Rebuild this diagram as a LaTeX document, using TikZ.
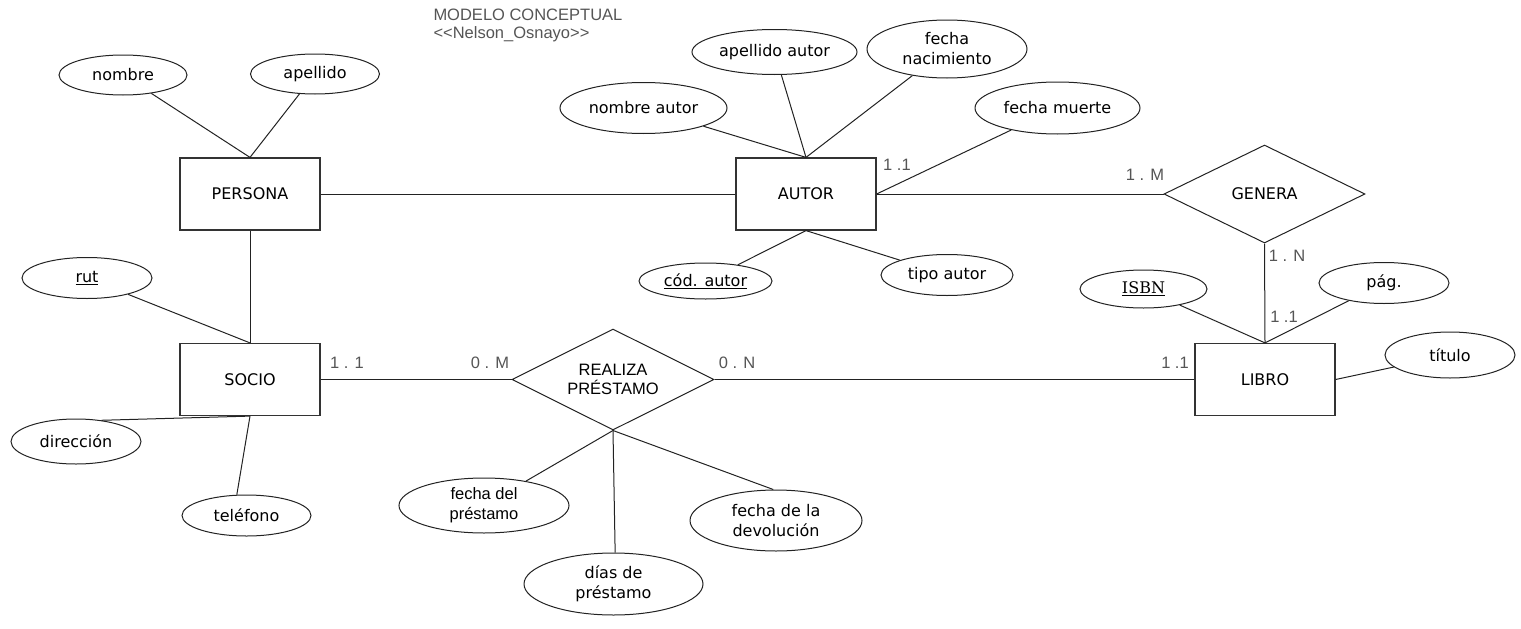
\documentclass[tikz,border=0pt]{standalone}
\usepackage{fontspec}
\setmainfont{DejaVu Sans}
\newfontfamily\arialf{Liberation Sans}
\newfontfamily\serifd{DejaVu Serif}
\usetikzlibrary{shapes.geometric}
\definecolor{lblgray}{HTML}{555555}
\definecolor{edgegray}{HTML}{222222}
\definecolor{boxgray}{HTML}{333333}
\begin{document}
\begin{tikzpicture}[x=1pt,y=-1pt,
  font=\fontsize{16}{20}\selectfont,
  line width=1pt, draw=edgegray,
  ent/.style={draw=boxgray, line width=1.2pt, minimum width=140pt, minimum height=72pt, inner sep=0pt},
  attr/.style={draw=edgegray, line width=1pt, ellipse, inner sep=0pt, align=center},
  rel/.style={draw=edgegray, line width=1pt, diamond, aspect=2, inner sep=0pt, align=center},
  card/.style={text=lblgray, font=\arialf\fontsize{16.5}{19}\selectfont, inner sep=0pt},
  conn/.style={draw=edgegray, line width=1pt}]
\useasboundingbox (0,0) rectangle (1521,629);

% title
\node[anchor=north west, align=left, text=lblgray, inner sep=0pt,
  font=\arialf\fontsize{16.5}{18}\selectfont] (title) at (433,8)
  {MODELO CONCEPTUAL\\<{}<Nelson\_Osnayo>{}>};

% entities
\node[ent] (persona) at (250,194) {PERSONA};
\node[ent] (autor) at (806,194) {AUTOR};
\node[ent] (socio) at (250,379.5) {SOCIO};
\node[ent] (libro) at (1265,379.5) {LIBRO};

% relationships
\node[rel, minimum width=201pt, minimum height=98pt] (genera) at (1264.5,194) {GENERA};
\node[rel, minimum width=202pt, minimum height=101pt,
  font=\arialf\fontsize{16.5}{19}\selectfont] (realiza) at (613,379.5) {REALIZA\\PRÉSTAMO};

% attributes
\node[attr, minimum width=128pt, minimum height=40pt] (nombre) at (123,75) {nombre};
\node[attr, minimum width=129pt, minimum height=40pt] (apellido) at (315,74) {apellido};
\node[attr, minimum width=165pt, minimum height=45pt] (apaut) at (774.5,52) {apellido autor};
\node[attr, minimum width=160pt, minimum height=58pt] (fnac) at (947,49) {fecha\\nacimiento};
\node[attr, minimum width=167pt, minimum height=51pt] (nomaut) at (643.5,108) {nombre autor};
\node[attr, minimum width=165pt, minimum height=52pt] (fmuerte) at (1057.5,108) {fecha muerte};
\node[attr, minimum width=133pt, minimum height=36pt] (codaut) at (705.5,281) {\underline{cód. autor}};
\node[attr, minimum width=132pt, minimum height=41pt] (tipoaut) at (947,275) {tipo autor};
\node[attr, minimum width=130pt, minimum height=41pt] (rut) at (87,278) {\underline{rut}};
\node[attr, minimum width=127pt, minimum height=38pt] (isbn) at (1143.5,289) {\serifd\underline{ISBN}};
\node[attr, minimum width=130pt, minimum height=41pt] (pag) at (1384,283) {pág.};
\node[attr, minimum width=130pt, minimum height=46pt] (titulo) at (1450,355) {título};
\node[attr, minimum width=130pt, minimum height=45pt] (direccion) at (76,441.5) {dirección};
\node[attr, minimum width=129pt, minimum height=41pt] (telefono) at (246.5,515.5) {teléfono};
\node[attr, minimum width=170pt, minimum height=55pt,
  font=\arialf\fontsize{16.5}{20}\selectfont] (fdelp) at (484,505.5) {fecha del\\préstamo};
\node[attr, minimum width=179pt, minimum height=62pt] (dias) at (613.5,584) {días de\\préstamo};
\node[attr, minimum width=172pt, minimum height=61pt] (fdev) at (776,520.5) {fecha de la\\devolución};

% connectors
\draw[conn] (nombre) -- (persona.north);
\draw[conn] (apellido) -- (persona.north);
\draw[conn] (persona.east) -- (autor.west);
\draw[conn] (persona.south) -- (socio.north);
\draw[conn] (rut) -- (socio.north);
\draw[conn] (direccion.40) -- (socio.south);
\draw[conn] (telefono.115) -- (socio.south);
\draw[conn] (socio.east) -- (realiza.west);
\draw[conn] (realiza.east) -- (libro.west);
\draw[conn] (realiza.south) -- (fdelp);
\draw[conn] (realiza.south) -- (dias.87);
\draw[conn] (realiza.south) -- (fdev.95);
\draw[conn] (nomaut) -- (autor.north);
\draw[conn] (apaut) -- (autor.north);
\draw[conn] (fnac) -- (autor.north);
\draw[conn] (fmuerte) -- (autor.east);
\draw[conn] (codaut) -- (autor.south);
\draw[conn] (tipoaut) -- (autor.south);
\draw[conn] (autor.east) -- (genera.west);
\draw[conn] (genera.south) -- (libro.north);
\draw[conn] (isbn) -- (libro.north);
\draw[conn] (pag) -- (libro.north);
\draw[conn] (libro.east) -- (titulo);

% cardinalities
\node[card] (c1) at (897,165) {1 .1};
\node[card] (c2) at (1145,175) {1 . M};
\node[card] (c3) at (1287,256) {1 . N};
\node[card] (c4) at (1284,317) {1 .1};
\node[card] (c5) at (347,363) {1 . 1};
\node[card] (c6) at (490,363) {0 . M};
\node[card] (c7) at (737,363) {0 . N};
\node[card] (c8) at (1175,363) {1 .1};
\end{tikzpicture}
\end{document}
